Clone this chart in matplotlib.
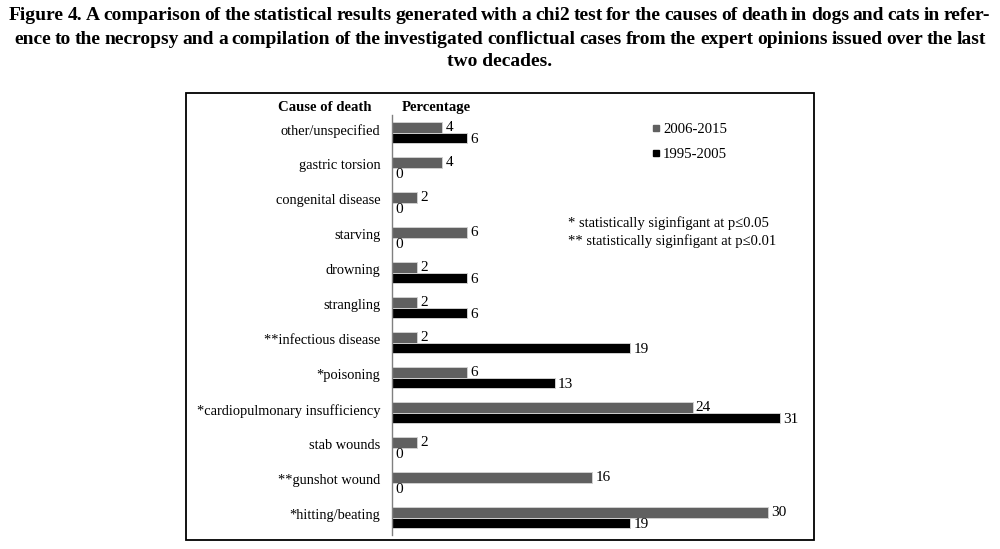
import matplotlib
matplotlib.use("Agg")
import matplotlib.pyplot as plt
from matplotlib.patches import Rectangle
from matplotlib.lines import Line2D
import matplotlib.transforms as mtransforms
import numpy as np

categories = ["other/unspecified", "gastric torsion", "congenital disease", "starving",
              "drowning", "strangling", "**infectious disease", "*poisoning",
              "*cardiopulmonary insufficiency", "stab wounds", "**gunshot wound",
              "*hitting/beating"]
values_2006_2015 = [4, 4, 2, 6, 2, 2, 2, 6, 24, 2, 16, 30]
values_1995_2005 = [6, 0, 0, 0, 6, 6, 19, 13, 31, 0, 0, 19]
series_labels = ["2006-2015", "1995-2005"]
notes = ["* statistically siginfigant at p\u22640.05", "** statistically siginfigant at p\u22640.01"]
title_lines = [
    "Figure 4. A comparison of the statistical results generated with a chi2 test for the causes of death in dogs and cats in refer-",
    "ence to the necropsy and a compilation of the investigated conflictual cases from the expert opinions issued over the last",
    "two decades.",
]

SERIF = ["Liberation Serif", "DejaVu Serif"]
plt.rcParams['font.family'] = SERIF

W, H = 1000, 549
fig = plt.figure(figsize=(W / 100, H / 100), dpi=100)

def fx(px):
    return px / W

def fy(py):
    return 1 - py / H

# frame box
fig.patches.append(Rectangle((fx(186), fy(540)), fx(814) - fx(186), fy(93) - fy(540),
                             transform=fig.transFigure, fill=False, edgecolor="black",
                             linewidth=1.3, zorder=0))

# axes
ax_left, ax_top, ax_bottom = 392, 115, 535
xmax = 33
px_per_unit = 12.53
ax = fig.add_axes([fx(ax_left), fy(ax_bottom), xmax * px_per_unit / W, (ax_bottom - ax_top) / H])
y = np.arange(len(categories))
h = 0.3
gray = "#606060"
ax.barh(y - h / 2, values_2006_2015, height=h, color=gray, edgecolor="#cfcfcf", linewidth=0.7)
ax.barh(y + h / 2, values_1995_2005, height=h, color="black", edgecolor="#cfcfcf", linewidth=0.7)
ax.set_xlim(0, xmax)
ax.set_ylim(len(categories) - 0.5, -0.5)
ax.set_yticks(y)
ax.set_yticklabels(categories, fontsize=10.4)
ax.tick_params(axis="y", length=0, pad=8.5)
shift = mtransforms.ScaledTranslation(0, 2.2 / 72, fig.dpi_scale_trans)
for lab in ax.get_yticklabels():
    lab.set_transform(lab.get_transform() + shift)
ax.set_xticks([])
for s in ["top", "right", "bottom"]:
    ax.spines[s].set_visible(False)
ax.spines["left"].set_color("#808080")
ax.spines["left"].set_linewidth(1.0)

off = 0.25
for i, (a, b) in enumerate(zip(values_2006_2015, values_1995_2005)):
    ax.text(a + off, i - h / 2, str(a), va="center", ha="left", fontsize=11)
    ax.text(b + off, i + h / 2 + 0.04, str(b), va="center", ha="left", fontsize=11)

# headers
fig.text(fx(372), fy(107), "Cause of death", ha="right", va="center", fontsize=10.6, fontweight="bold")
fig.text(fx(402), fy(107), "Percentage", ha="left", va="center", fontsize=10.6, fontweight="bold")

# legend
handles = [Line2D([], [], marker="s", linestyle="none", markersize=5, color=gray),
           Line2D([], [], marker="s", linestyle="none", markersize=5, color="black")]
fig.legend(handles, series_labels, loc="upper left", bbox_to_anchor=(fx(644), fy(115)),
           bbox_transform=fig.transFigure, frameon=False, fontsize=10.6,
           handlelength=0.6, handletextpad=0.2, labelspacing=0.8, borderpad=0)

# notes
fig.text(fx(568), fy(223), notes[0], ha="left", va="center", fontsize=10.5)
fig.text(fx(568), fy(241), notes[1], ha="left", va="center", fontsize=10.5)

# title (justified lines)
fig.canvas.draw()
renderer = fig.canvas.get_renderer()
tfs = 14

def justify(line, x0, x1, ypx):
    words = line.split(" ")
    widths = []
    for w_ in words:
        t = fig.text(0, 0, w_, fontsize=tfs, fontweight="bold")
        bb = t.get_window_extent(renderer)
        widths.append(bb.width)
        t.remove()
    gap = (x1 - x0 - sum(widths)) / (len(words) - 1)
    x = x0
    for w_, wd in zip(words, widths):
        fig.text(fx(x), fy(ypx), w_, fontsize=tfs, fontweight="bold", ha="left", va="center")
        x += wd + gap

justify(title_lines[0], 9, 990, 16)
justify(title_lines[1], 14, 986, 39)
fig.text(0.5, fy(61), title_lines[2], fontsize=tfs, fontweight="bold", ha="center", va="center")

fig.savefig("out.png", dpi=100)
